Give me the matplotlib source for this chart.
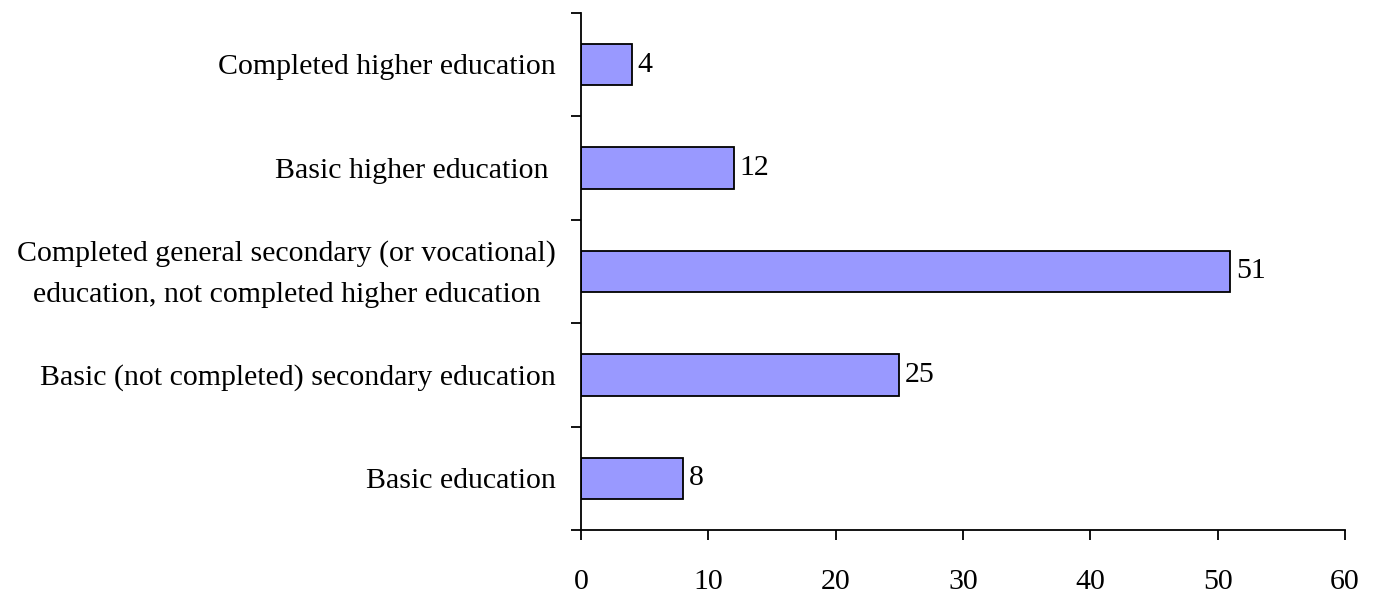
import matplotlib
matplotlib.use("Agg")
import matplotlib.pyplot as plt
import numpy as np

categories = [
    "Basic education",
    "Basic (not completed) secondary education",
    "Completed general secondary (or vocational)\neducation, not completed higher education",
    "Basic higher education ",
    "Completed higher education",
]
values = [8, 25, 51, 12, 4]
xticks = [0, 10, 20, 30, 40, 50, 60]

plt.rcParams['font.family'] = ['Liberation Serif', 'DejaVu Serif']
FS = 21.5

fig = plt.figure(figsize=(13.79, 5.94), dpi=100)
ax = fig.add_axes([581/1379, 64/594, (1345-581)/1379, (530-13)/594])

pos = np.arange(len(categories))
ax.barh(pos, values, height=0.4, color='#9999FF', edgecolor='black', linewidth=1.3)
for p, v in zip(pos, values):
    ax.text(v + 0.45, p, str(v), va='center', ha='left', fontsize=FS)

for p, c in zip(pos, categories):
    ax.annotate(c, xy=(0, p), xycoords=('axes fraction', 'data'),
                xytext=(-18, -2), textcoords='offset points',
                ha='right', va='center', multialignment='center',
                linespacing=1.75, fontsize=FS, annotation_clip=False)

ax.set_xlim(0, 60)
ax.set_ylim(-0.5, len(categories) - 0.5)
ax.set_xticks(xticks)
ax.set_xticklabels([str(t) for t in xticks], fontsize=FS)
ax.set_yticks(np.arange(-0.5, len(categories), 1.0))
ax.set_yticklabels([])
ax.tick_params(axis='y', which='major', direction='out', length=7, width=1.3)
ax.tick_params(axis='x', direction='out', length=7, width=1.3, pad=21)

for s in ['top', 'right']:
    ax.spines[s].set_visible(False)
for s in ['left', 'bottom']:
    ax.spines[s].set_linewidth(1.3)

fig.savefig('out.png', dpi=100)
